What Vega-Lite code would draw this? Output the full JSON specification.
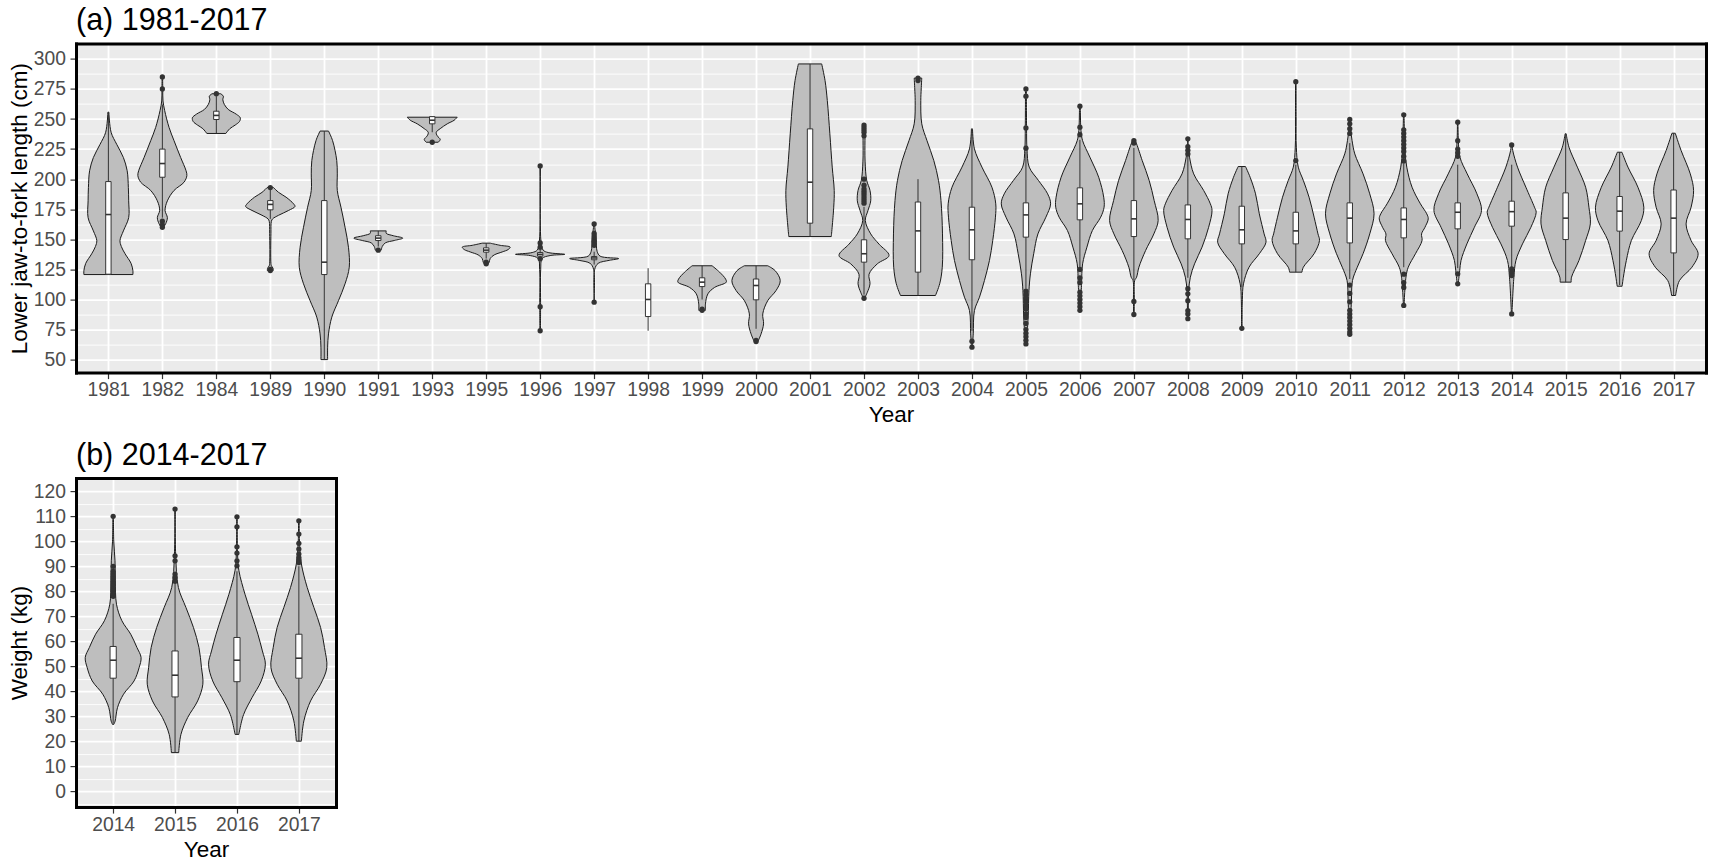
{
"$schema": "https://vega.github.io/schema/vega-lite/v6.json",
"background": "white",
"padding": {"left": 8, "top": 5.6, "right": 3, "bottom": 0},
"config": {
  "font": "Liberation Sans",
  "view": {"fill": "#EBEBEB", "stroke": null},
  "axis": {"labelFont": "Liberation Sans", "labelFontSize": 19.3, "labelColor": "#4D4D4D", "titleFont": "Liberation Sans", "titleFontSize": 22.5, "titleFontWeight": "normal", "titleColor": "black", "tickColor": "#333333", "tickSize": 6, "tickWidth": 1.2, "domainColor": "black", "domainWidth": 3, "domainCap": "square", "gridColor": "white", "gridWidth": 1.8},
  "axisX": {"labelPadding": 2, "titlePadding": 4},
  "axisY": {"labelPadding": 4.5, "titlePadding": 2},
  "title": {"font": "Liberation Sans", "fontSize": 30.5, "fontWeight": "normal", "anchor": "start", "frame": "group", "color": "black", "baseline": "alphabetic", "offset": 7}
},
"datasets": {
"a": [
{"k":"v","year":1981,"v":120.7,"w":0.454},{"k":"v","year":1981,"v":124,"w":0.454},{"k":"v","year":1981,"v":130,"w":0.42},{"k":"v","year":1981,"v":138,"w":0.309},{"k":"v","year":1981,"v":144,"w":0.24},{"k":"v","year":1981,"v":149,"w":0.215},{"k":"v","year":1981,"v":157,"w":0.278},{"k":"v","year":1981,"v":168,"w":0.376},{"k":"v","year":1981,"v":182,"w":0.376},{"k":"v","year":1981,"v":193,"w":0.37},{"k":"v","year":1981,"v":207,"w":0.348},{"k":"v","year":1981,"v":218,"w":0.278},{"k":"v","year":1981,"v":229,"w":0.154},{"k":"v","year":1981,"v":239,"w":0.05},{"k":"v","year":1981,"v":255.7,"w":0.009},
{"k":"v","year":1982,"v":160,"w":0.02},{"k":"v","year":1982,"v":163,"w":0.062},{"k":"v","year":1982,"v":168,"w":0.093},{"k":"v","year":1982,"v":174,"w":0.05},{"k":"v","year":1982,"v":182,"w":0.093},{"k":"v","year":1982,"v":190.6,"w":0.216},{"k":"v","year":1982,"v":197.5,"w":0.402},{"k":"v","year":1982,"v":203,"w":0.454},{"k":"v","year":1982,"v":207,"w":0.439},{"k":"v","year":1982,"v":218,"w":0.339},{"k":"v","year":1982,"v":232,"w":0.216},{"k":"v","year":1982,"v":243,"w":0.124},{"k":"v","year":1982,"v":257,"w":0.043},{"k":"v","year":1982,"v":265,"w":0.012},{"k":"v","year":1982,"v":275,"w":0.008},{"k":"v","year":1982,"v":285,"w":0.005},
{"k":"v","year":1984,"v":238,"w":0.176},{"k":"v","year":1984,"v":242,"w":0.25},{"k":"v","year":1984,"v":245,"w":0.35},{"k":"v","year":1984,"v":248,"w":0.43},{"k":"v","year":1984,"v":251,"w":0.444},{"k":"v","year":1984,"v":254,"w":0.37},{"k":"v","year":1984,"v":258,"w":0.22},{"k":"v","year":1984,"v":262,"w":0.15},{"k":"v","year":1984,"v":266,"w":0.12},{"k":"v","year":1984,"v":269,"w":0.13},{"k":"v","year":1984,"v":271,"w":0.08},
{"k":"v","year":1989,"v":124,"w":0.055},{"k":"v","year":1989,"v":126,"w":0.05},{"k":"v","year":1989,"v":128,"w":0.02},{"k":"v","year":1989,"v":130,"w":0.012},{"k":"v","year":1989,"v":155,"w":0.012},{"k":"v","year":1989,"v":165,"w":0.02},{"k":"v","year":1989,"v":167,"w":0.043},{"k":"v","year":1989,"v":170,"w":0.154},{"k":"v","year":1989,"v":174,"w":0.339},{"k":"v","year":1989,"v":177.3,"w":0.457},{"k":"v","year":1989,"v":179.5,"w":0.431},{"k":"v","year":1989,"v":185,"w":0.293},{"k":"v","year":1989,"v":189,"w":0.154},{"k":"v","year":1989,"v":193,"w":0.06},
{"k":"v","year":1990,"v":50,"w":0.062},{"k":"v","year":1990,"v":60.3,"w":0.062},{"k":"v","year":1990,"v":71.4,"w":0.078},{"k":"v","year":1990,"v":85.3,"w":0.139},{"k":"v","year":1990,"v":99,"w":0.263},{"k":"v","year":1990,"v":113,"w":0.385},{"k":"v","year":1990,"v":126.8,"w":0.463},{"k":"v","year":1990,"v":143.4,"w":0.448},{"k":"v","year":1990,"v":160,"w":0.385},{"k":"v","year":1990,"v":176.7,"w":0.309},{"k":"v","year":1990,"v":190.6,"w":0.241},{"k":"v","year":1990,"v":204.4,"w":0.241},{"k":"v","year":1990,"v":215.5,"w":0.231},{"k":"v","year":1990,"v":232,"w":0.154},{"k":"v","year":1990,"v":240,"w":0.078},
{"k":"v","year":1991,"v":141,"w":0.055},{"k":"v","year":1991,"v":144,"w":0.074},{"k":"v","year":1991,"v":147,"w":0.13},{"k":"v","year":1991,"v":149,"w":0.296},{"k":"v","year":1991,"v":151,"w":0.454},{"k":"v","year":1991,"v":153,"w":0.278},{"k":"v","year":1991,"v":155,"w":0.148},{"k":"v","year":1991,"v":157,"w":0.148},
{"k":"v","year":1993,"v":230.7,"w":0.111},{"k":"v","year":1993,"v":233,"w":0.148},{"k":"v","year":1993,"v":236,"w":0.093},{"k":"v","year":1993,"v":239,"w":0.074},{"k":"v","year":1993,"v":242,"w":0.148},{"k":"v","year":1993,"v":246,"w":0.278},{"k":"v","year":1993,"v":249,"w":0.407},{"k":"v","year":1993,"v":251.5,"w":0.463},
{"k":"v","year":1995,"v":129.6,"w":0.037},{"k":"v","year":1995,"v":131,"w":0.055},{"k":"v","year":1995,"v":134,"w":0.074},{"k":"v","year":1995,"v":137,"w":0.148},{"k":"v","year":1995,"v":139.5,"w":0.296},{"k":"v","year":1995,"v":141.5,"w":0.407},{"k":"v","year":1995,"v":143.5,"w":0.444},{"k":"v","year":1995,"v":145,"w":0.259},{"k":"v","year":1995,"v":146.8,"w":0.074},
{"k":"v","year":1996,"v":74,"w":0.005},{"k":"v","year":1996,"v":94,"w":0.008},{"k":"v","year":1996,"v":125,"w":0.01},{"k":"v","year":1996,"v":134,"w":0.037},{"k":"v","year":1996,"v":136.5,"w":0.185},{"k":"v","year":1996,"v":137.5,"w":0.457},{"k":"v","year":1996,"v":139,"w":0.148},{"k":"v","year":1996,"v":141,"w":0.055},{"k":"v","year":1996,"v":147,"w":0.018},{"k":"v","year":1996,"v":211,"w":0.005},
{"k":"v","year":1997,"v":97.7,"w":0.005},{"k":"v","year":1997,"v":125,"w":0.01},{"k":"v","year":1997,"v":130,"w":0.074},{"k":"v","year":1997,"v":132.5,"w":0.278},{"k":"v","year":1997,"v":134,"w":0.454},{"k":"v","year":1997,"v":136,"w":0.111},{"k":"v","year":1997,"v":140,"w":0.055},{"k":"v","year":1997,"v":150,"w":0.037},{"k":"v","year":1997,"v":162.8,"w":0.005},
{"k":"v","year":1999,"v":91,"w":0.062},{"k":"v","year":1999,"v":96.3,"w":0.062},{"k":"v","year":1999,"v":104.7,"w":0.108},{"k":"v","year":1999,"v":110,"w":0.231},{"k":"v","year":1999,"v":114.4,"w":0.448},{"k":"v","year":1999,"v":117,"w":0.435},{"k":"v","year":1999,"v":122.7,"w":0.324},{"k":"v","year":1999,"v":128,"w":0.185},
{"k":"v","year":2000,"v":65.9,"w":0.043},{"k":"v","year":2000,"v":71.4,"w":0.093},{"k":"v","year":2000,"v":79.7,"w":0.139},{"k":"v","year":2000,"v":88,"w":0.124},{"k":"v","year":2000,"v":99,"w":0.216},{"k":"v","year":2000,"v":107.4,"w":0.37},{"k":"v","year":2000,"v":115.7,"w":0.448},{"k":"v","year":2000,"v":124,"w":0.352},{"k":"v","year":2000,"v":128,"w":0.216},
{"k":"v","year":2001,"v":152.3,"w":0.394},{"k":"v","year":2001,"v":176.7,"w":0.439},{"k":"v","year":2001,"v":190.6,"w":0.448},{"k":"v","year":2001,"v":210,"w":0.411},{"k":"v","year":2001,"v":237.7,"w":0.367},{"k":"v","year":2001,"v":265.4,"w":0.32},{"k":"v","year":2001,"v":282,"w":0.278},{"k":"v","year":2001,"v":295.8,"w":0.216},
{"k":"v","year":2002,"v":101,"w":0.01},{"k":"v","year":2002,"v":106,"w":0.062},{"k":"v","year":2002,"v":113,"w":0.111},{"k":"v","year":2002,"v":121,"w":0.093},{"k":"v","year":2002,"v":129.6,"w":0.246},{"k":"v","year":2002,"v":136.5,"w":0.463},{"k":"v","year":2002,"v":146,"w":0.278},{"k":"v","year":2002,"v":154.5,"w":0.124},{"k":"v","year":2002,"v":165.6,"w":0.024},{"k":"v","year":2002,"v":174,"w":0.074},{"k":"v","year":2002,"v":182,"w":0.124},{"k":"v","year":2002,"v":190.6,"w":0.111},{"k":"v","year":2002,"v":199,"w":0.05},{"k":"v","year":2002,"v":215,"w":0.02},{"k":"v","year":2002,"v":232,"w":0.018},{"k":"v","year":2002,"v":240,"w":0.02},{"k":"v","year":2002,"v":245,"w":0.01},
{"k":"v","year":2003,"v":103.3,"w":0.324},{"k":"v","year":2003,"v":113,"w":0.402},{"k":"v","year":2003,"v":126.8,"w":0.45},{"k":"v","year":2003,"v":154.5,"w":0.454},{"k":"v","year":2003,"v":182.2,"w":0.426},{"k":"v","year":2003,"v":199,"w":0.38},{"k":"v","year":2003,"v":215.5,"w":0.293},{"k":"v","year":2003,"v":232,"w":0.167},{"k":"v","year":2003,"v":246,"w":0.07},{"k":"v","year":2003,"v":265.4,"w":0.052},{"k":"v","year":2003,"v":275,"w":0.06},{"k":"v","year":2003,"v":284,"w":0.07},
{"k":"v","year":2004,"v":60.3,"w":0.008},{"k":"v","year":2004,"v":71.4,"w":0.024},{"k":"v","year":2004,"v":90.8,"w":0.046},{"k":"v","year":2004,"v":101.9,"w":0.139},{"k":"v","year":2004,"v":115.7,"w":0.231},{"k":"v","year":2004,"v":132.4,"w":0.324},{"k":"v","year":2004,"v":149,"w":0.385},{"k":"v","year":2004,"v":168.4,"w":0.435},{"k":"v","year":2004,"v":179.5,"w":0.441},{"k":"v","year":2004,"v":193.3,"w":0.37},{"k":"v","year":2004,"v":210,"w":0.185},{"k":"v","year":2004,"v":225.2,"w":0.046},{"k":"v","year":2004,"v":241.8,"w":0.01},
{"k":"v","year":2005,"v":63,"w":0.01},{"k":"v","year":2005,"v":85.3,"w":0.041},{"k":"v","year":2005,"v":107.4,"w":0.056},{"k":"v","year":2005,"v":121.3,"w":0.083},{"k":"v","year":2005,"v":138,"w":0.144},{"k":"v","year":2005,"v":154.5,"w":0.222},{"k":"v","year":2005,"v":168.4,"w":0.37},{"k":"v","year":2005,"v":179.5,"w":0.457},{"k":"v","year":2005,"v":187.8,"w":0.402},{"k":"v","year":2005,"v":199,"w":0.231},{"k":"v","year":2005,"v":210,"w":0.061},{"k":"v","year":2005,"v":225,"w":0.02},{"k":"v","year":2005,"v":242.6,"w":0.012},{"k":"v","year":2005,"v":275,"w":0.008},
{"k":"v","year":2006,"v":91,"w":0.01},{"k":"v","year":2006,"v":113,"w":0.031},{"k":"v","year":2006,"v":129.6,"w":0.05},{"k":"v","year":2006,"v":143.5,"w":0.13},{"k":"v","year":2006,"v":157.3,"w":0.231},{"k":"v","year":2006,"v":168.4,"w":0.385},{"k":"v","year":2006,"v":176.7,"w":0.448},{"k":"v","year":2006,"v":185,"w":0.441},{"k":"v","year":2006,"v":201.6,"w":0.348},{"k":"v","year":2006,"v":218.3,"w":0.185},{"k":"v","year":2006,"v":232,"w":0.05},{"k":"v","year":2006,"v":240.4,"w":0.02},{"k":"v","year":2006,"v":260.7,"w":0.008},
{"k":"v","year":2007,"v":87.5,"w":0.005},{"k":"v","year":2007,"v":100,"w":0.008},{"k":"v","year":2007,"v":115.7,"w":0.015},{"k":"v","year":2007,"v":118.5,"w":0.05},{"k":"v","year":2007,"v":126.8,"w":0.093},{"k":"v","year":2007,"v":140.7,"w":0.217},{"k":"v","year":2007,"v":154.5,"w":0.37},{"k":"v","year":2007,"v":165.6,"w":0.45},{"k":"v","year":2007,"v":182.2,"w":0.376},{"k":"v","year":2007,"v":199,"w":0.283},{"k":"v","year":2007,"v":215.5,"w":0.154},{"k":"v","year":2007,"v":229.3,"w":0.05},{"k":"v","year":2007,"v":232,"w":0.02},
{"k":"v","year":2008,"v":83,"w":0.005},{"k":"v","year":2008,"v":99,"w":0.01},{"k":"v","year":2008,"v":107.4,"w":0.015},{"k":"v","year":2008,"v":118.5,"w":0.046},{"k":"v","year":2008,"v":129.6,"w":0.124},{"k":"v","year":2008,"v":143.5,"w":0.263},{"k":"v","year":2008,"v":160,"w":0.385},{"k":"v","year":2008,"v":174,"w":0.448},{"k":"v","year":2008,"v":179.5,"w":0.417},{"k":"v","year":2008,"v":190.6,"w":0.293},{"k":"v","year":2008,"v":204.4,"w":0.108},{"k":"v","year":2008,"v":218.3,"w":0.031},{"k":"v","year":2008,"v":226,"w":0.01},{"k":"v","year":2008,"v":233.5,"w":0.005},
{"k":"v","year":2009,"v":76,"w":0.005},{"k":"v","year":2009,"v":100,"w":0.01},{"k":"v","year":2009,"v":113,"w":0.031},{"k":"v","year":2009,"v":126.8,"w":0.133},{"k":"v","year":2009,"v":138,"w":0.324},{"k":"v","year":2009,"v":147.6,"w":0.448},{"k":"v","year":2009,"v":154.5,"w":0.413},{"k":"v","year":2009,"v":171.2,"w":0.324},{"k":"v","year":2009,"v":187.8,"w":0.254},{"k":"v","year":2009,"v":201.6,"w":0.154},{"k":"v","year":2009,"v":210.5,"w":0.068},
{"k":"v","year":2010,"v":122.7,"w":0.115},{"k":"v","year":2010,"v":126.8,"w":0.139},{"k":"v","year":2010,"v":138,"w":0.339},{"k":"v","year":2010,"v":149,"w":0.439},{"k":"v","year":2010,"v":154.5,"w":0.411},{"k":"v","year":2010,"v":168.4,"w":0.339},{"k":"v","year":2010,"v":185,"w":0.246},{"k":"v","year":2010,"v":199,"w":0.139},{"k":"v","year":2010,"v":210,"w":0.046},{"k":"v","year":2010,"v":226.6,"w":0.01},{"k":"v","year":2010,"v":250,"w":0.006},{"k":"v","year":2010,"v":281,"w":0.005},
{"k":"v","year":2011,"v":71.4,"w":0.005},{"k":"v","year":2011,"v":99,"w":0.031},{"k":"v","year":2011,"v":115.7,"w":0.05},{"k":"v","year":2011,"v":126.8,"w":0.139},{"k":"v","year":2011,"v":138,"w":0.246},{"k":"v","year":2011,"v":154.5,"w":0.37},{"k":"v","year":2011,"v":171.2,"w":0.45},{"k":"v","year":2011,"v":187.8,"w":0.37},{"k":"v","year":2011,"v":204.4,"w":0.246},{"k":"v","year":2011,"v":221,"w":0.093},{"k":"v","year":2011,"v":232,"w":0.043},{"k":"v","year":2011,"v":242,"w":0.015},{"k":"v","year":2011,"v":249.6,"w":0.008},
{"k":"v","year":2012,"v":93.5,"w":0.005},{"k":"v","year":2012,"v":118.5,"w":0.041},{"k":"v","year":2012,"v":126.8,"w":0.083},{"k":"v","year":2012,"v":138,"w":0.217},{"k":"v","year":2012,"v":149,"w":0.339},{"k":"v","year":2012,"v":154.5,"w":0.33},{"k":"v","year":2012,"v":160,"w":0.393},{"k":"v","year":2012,"v":167,"w":0.454},{"k":"v","year":2012,"v":171.2,"w":0.426},{"k":"v","year":2012,"v":179.5,"w":0.309},{"k":"v","year":2012,"v":193.3,"w":0.154},{"k":"v","year":2012,"v":210,"w":0.056},{"k":"v","year":2012,"v":225,"w":0.02},{"k":"v","year":2012,"v":240,"w":0.012},{"k":"v","year":2012,"v":253.5,"w":0.005},
{"k":"v","year":2013,"v":113,"w":0.01},{"k":"v","year":2013,"v":124,"w":0.037},{"k":"v","year":2013,"v":132.4,"w":0.061},{"k":"v","year":2013,"v":146.2,"w":0.17},{"k":"v","year":2013,"v":160,"w":0.309},{"k":"v","year":2013,"v":174,"w":0.441},{"k":"v","year":2013,"v":187.8,"w":0.356},{"k":"v","year":2013,"v":204.4,"w":0.176},{"k":"v","year":2013,"v":218.3,"w":0.041},{"k":"v","year":2013,"v":232,"w":0.012},{"k":"v","year":2013,"v":247.4,"w":0.005},
{"k":"v","year":2014,"v":88,"w":0.005},{"k":"v","year":2014,"v":118.5,"w":0.041},{"k":"v","year":2014,"v":132.4,"w":0.078},{"k":"v","year":2014,"v":146.2,"w":0.2},{"k":"v","year":2014,"v":160,"w":0.356},{"k":"v","year":2014,"v":172.5,"w":0.454},{"k":"v","year":2014,"v":176.7,"w":0.422},{"k":"v","year":2014,"v":193.3,"w":0.263},{"k":"v","year":2014,"v":210,"w":0.108},{"k":"v","year":2014,"v":223.8,"w":0.02},{"k":"v","year":2014,"v":228.5,"w":0.008},
{"k":"v","year":2015,"v":114.4,"w":0.102},{"k":"v","year":2015,"v":118.5,"w":0.108},{"k":"v","year":2015,"v":132.4,"w":0.246},{"k":"v","year":2015,"v":149,"w":0.37},{"k":"v","year":2015,"v":162.8,"w":0.457},{"k":"v","year":2015,"v":176.7,"w":0.431},{"k":"v","year":2015,"v":193.3,"w":0.37},{"k":"v","year":2015,"v":210,"w":0.217},{"k":"v","year":2015,"v":226.6,"w":0.061},{"k":"v","year":2015,"v":237.7,"w":0.01},
{"k":"v","year":2016,"v":111,"w":0.046},{"k":"v","year":2016,"v":118.5,"w":0.069},{"k":"v","year":2016,"v":132.4,"w":0.124},{"k":"v","year":2016,"v":149,"w":0.217},{"k":"v","year":2016,"v":165.6,"w":0.402},{"k":"v","year":2016,"v":176.7,"w":0.448},{"k":"v","year":2016,"v":193.3,"w":0.339},{"k":"v","year":2016,"v":210,"w":0.154},{"k":"v","year":2016,"v":222.4,"w":0.043},
{"k":"v","year":2017,"v":103.3,"w":0.037},{"k":"v","year":2017,"v":115.7,"w":0.108},{"k":"v","year":2017,"v":126.8,"w":0.339},{"k":"v","year":2017,"v":138,"w":0.454},{"k":"v","year":2017,"v":149,"w":0.324},{"k":"v","year":2017,"v":162.8,"w":0.231},{"k":"v","year":2017,"v":176.7,"w":0.324},{"k":"v","year":2017,"v":190.6,"w":0.37},{"k":"v","year":2017,"v":204.4,"w":0.309},{"k":"v","year":2017,"v":223.8,"w":0.139},{"k":"v","year":2017,"v":238.2,"w":0.031},
{"k":"b","year":1981,"q1":121,"med":170.6,"q3":198,"lo":121,"hi":255.7},
{"k":"b","year":1982,"q1":201.6,"med":213,"q3":225,"lo":168,"hi":262},
{"k":"b","year":1984,"q1":249.6,"med":253,"q3":256.5,"lo":238,"hi":269},
{"k":"b","year":1989,"q1":174.5,"med":179,"q3":182.2,"lo":167,"hi":192},
{"k":"b","year":1990,"q1":120.7,"med":131,"q3":182.2,"lo":50,"hi":240},
{"k":"b","year":1991,"q1":149,"med":151,"q3":153,"lo":144,"hi":157},
{"k":"b","year":1993,"q1":246,"med":249,"q3":252,"lo":239,"hi":252},
{"k":"b","year":1995,"q1":139.3,"med":141,"q3":142.9,"lo":134,"hi":146.8},
{"k":"b","year":1996,"q1":136,"med":137.5,"q3":139,"lo":132,"hi":143},
{"k":"b","year":1997,"q1":133,"med":134.5,"q3":135.7,"lo":129,"hi":139.7},
{"k":"b","year":1998,"q1":85.8,"med":100,"q3":113,"lo":74,"hi":126},
{"k":"b","year":1999,"q1":110.7,"med":114.4,"q3":118,"lo":100,"hi":128},
{"k":"b","year":2000,"q1":99.7,"med":111.6,"q3":117,"lo":75.6,"hi":128},
{"k":"b","year":2001,"q1":163.4,"med":197.5,"q3":241.8,"lo":152.3,"hi":295.8},
{"k":"b","year":2002,"q1":131,"med":138,"q3":149.6,"lo":104,"hi":177},
{"k":"b","year":2003,"q1":122.7,"med":157,"q3":181,"lo":103.3,"hi":200},
{"k":"b","year":2004,"q1":133,"med":157.9,"q3":176.7,"lo":74,"hi":241.8},
{"k":"b","year":2005,"q1":151.8,"med":170.3,"q3":180.3,"lo":109,"hi":223},
{"k":"b","year":2006,"q1":166.2,"med":179.5,"q3":192.8,"lo":127,"hi":232.7},
{"k":"b","year":2007,"q1":152.3,"med":167,"q3":182.2,"lo":115.7,"hi":226},
{"k":"b","year":2008,"q1":150.4,"med":166.5,"q3":178.6,"lo":118,"hi":220},
{"k":"b","year":2009,"q1":146.2,"med":157.9,"q3":177.5,"lo":110,"hi":210.5},
{"k":"b","year":2010,"q1":146.2,"med":157,"q3":172.5,"lo":122.7,"hi":212},
{"k":"b","year":2011,"q1":147,"med":167.6,"q3":180.3,"lo":117,"hi":230},
{"k":"b","year":2012,"q1":151.2,"med":166.5,"q3":176.1,"lo":126.8,"hi":213},
{"k":"b","year":2013,"q1":158.7,"med":172.5,"q3":180.3,"lo":126,"hi":212},
{"k":"b","year":2014,"q1":160.9,"med":173,"q3":181.7,"lo":126,"hi":212},
{"k":"b","year":2015,"q1":149.8,"med":167.6,"q3":188.6,"lo":114.4,"hi":237.7},
{"k":"b","year":2016,"q1":156.8,"med":173.4,"q3":185.6,"lo":112,"hi":222.4},
{"k":"b","year":2017,"q1":138.7,"med":167.6,"q3":191,"lo":103.3,"hi":238.2},
{"k":"o","year":1982,"v":285},{"k":"o","year":1982,"v":275},{"k":"o","year":1982,"v":165},{"k":"o","year":1982,"v":162},{"k":"o","year":1982,"v":160},
{"k":"o","year":1984,"v":271},
{"k":"o","year":1989,"v":193},{"k":"o","year":1989,"v":125},{"k":"o","year":1989,"v":124},
{"k":"o","year":1991,"v":141},
{"k":"o","year":1993,"v":230.7},
{"k":"o","year":1995,"v":131},{"k":"o","year":1995,"v":129.6},
{"k":"o","year":1996,"v":211},{"k":"o","year":1996,"v":147},{"k":"o","year":1996,"v":143.5},{"k":"o","year":1996,"v":133.8},{"k":"o","year":1996,"v":94},{"k":"o","year":1996,"v":74},
{"k":"o","year":1997,"v":162.8},{"k":"o","year":1997,"v":155},{"k":"o","year":1997,"v":153},{"k":"o","year":1997,"v":151},{"k":"o","year":1997,"v":149},{"k":"o","year":1997,"v":147.5},{"k":"o","year":1997,"v":145},{"k":"o","year":1997,"v":97.7},
{"k":"o","year":1999,"v":92},{"k":"o","year":1999,"v":91},
{"k":"o","year":2000,"v":66},{"k":"o","year":2000,"v":65},
{"k":"o","year":2002,"v":245},{"k":"o","year":2002,"v":243},{"k":"o","year":2002,"v":241},{"k":"o","year":2002,"v":239},{"k":"o","year":2002,"v":236},{"k":"o","year":2002,"v":200},{"k":"o","year":2002,"v":195},{"k":"o","year":2002,"v":192},{"k":"o","year":2002,"v":190},{"k":"o","year":2002,"v":188},{"k":"o","year":2002,"v":186},{"k":"o","year":2002,"v":184},{"k":"o","year":2002,"v":182},{"k":"o","year":2002,"v":180},{"k":"o","year":2002,"v":101},
{"k":"o","year":2003,"v":284},{"k":"o","year":2003,"v":282},
{"k":"o","year":2004,"v":65.3},{"k":"o","year":2004,"v":60.3},
{"k":"o","year":2005,"v":275},{"k":"o","year":2005,"v":269},{"k":"o","year":2005,"v":242.6},{"k":"o","year":2005,"v":225.7},{"k":"o","year":2005,"v":107},{"k":"o","year":2005,"v":104},{"k":"o","year":2005,"v":101},{"k":"o","year":2005,"v":98},{"k":"o","year":2005,"v":95},{"k":"o","year":2005,"v":92},{"k":"o","year":2005,"v":88},{"k":"o","year":2005,"v":85},{"k":"o","year":2005,"v":80},{"k":"o","year":2005,"v":75},{"k":"o","year":2005,"v":72},{"k":"o","year":2005,"v":69},{"k":"o","year":2005,"v":66},{"k":"o","year":2005,"v":63},
{"k":"o","year":2006,"v":260.7},{"k":"o","year":2006,"v":243.2},{"k":"o","year":2006,"v":237},{"k":"o","year":2006,"v":125},{"k":"o","year":2006,"v":118},{"k":"o","year":2006,"v":114},{"k":"o","year":2006,"v":106},{"k":"o","year":2006,"v":103},{"k":"o","year":2006,"v":100},{"k":"o","year":2006,"v":97},{"k":"o","year":2006,"v":94},{"k":"o","year":2006,"v":91},
{"k":"o","year":2007,"v":232},{"k":"o","year":2007,"v":230},{"k":"o","year":2007,"v":98.3},{"k":"o","year":2007,"v":87.5},
{"k":"o","year":2008,"v":233.5},{"k":"o","year":2008,"v":227},{"k":"o","year":2008,"v":224},{"k":"o","year":2008,"v":221},{"k":"o","year":2008,"v":109},{"k":"o","year":2008,"v":104.7},{"k":"o","year":2008,"v":99},{"k":"o","year":2008,"v":90.8},{"k":"o","year":2008,"v":88},{"k":"o","year":2008,"v":84},
{"k":"o","year":2009,"v":76},
{"k":"o","year":2010,"v":281},{"k":"o","year":2010,"v":215.5},
{"k":"o","year":2011,"v":249.6},{"k":"o","year":2011,"v":246},{"k":"o","year":2011,"v":242},{"k":"o","year":2011,"v":238},{"k":"o","year":2011,"v":112},{"k":"o","year":2011,"v":105},{"k":"o","year":2011,"v":98},{"k":"o","year":2011,"v":91},{"k":"o","year":2011,"v":88},{"k":"o","year":2011,"v":85},{"k":"o","year":2011,"v":82},{"k":"o","year":2011,"v":79},{"k":"o","year":2011,"v":76},{"k":"o","year":2011,"v":73},{"k":"o","year":2011,"v":71},
{"k":"o","year":2012,"v":253.5},{"k":"o","year":2012,"v":241},{"k":"o","year":2012,"v":238},{"k":"o","year":2012,"v":235},{"k":"o","year":2012,"v":232},{"k":"o","year":2012,"v":229},{"k":"o","year":2012,"v":226},{"k":"o","year":2012,"v":223},{"k":"o","year":2012,"v":219},{"k":"o","year":2012,"v":215},{"k":"o","year":2012,"v":121},{"k":"o","year":2012,"v":114},{"k":"o","year":2012,"v":110},{"k":"o","year":2012,"v":95},
{"k":"o","year":2013,"v":247.4},{"k":"o","year":2013,"v":232},{"k":"o","year":2013,"v":225},{"k":"o","year":2013,"v":222},{"k":"o","year":2013,"v":219},{"k":"o","year":2013,"v":121.3},{"k":"o","year":2013,"v":113},
{"k":"o","year":2014,"v":228.5},{"k":"o","year":2014,"v":125.4},{"k":"o","year":2014,"v":122.6},{"k":"o","year":2014,"v":119.9},{"k":"o","year":2014,"v":88}
],
"b": [
{"k":"v","year":2014,"v":26.7,"w":0.01},{"k":"v","year":2014,"v":28,"w":0.032},{"k":"v","year":2014,"v":33.4,"w":0.07},{"k":"v","year":2014,"v":38.8,"w":0.168},{"k":"v","year":2014,"v":44.1,"w":0.338},{"k":"v","year":2014,"v":49.4,"w":0.419},{"k":"v","year":2014,"v":53.5,"w":0.451},{"k":"v","year":2014,"v":57.5,"w":0.384},{"k":"v","year":2014,"v":62.8,"w":0.284},{"k":"v","year":2014,"v":68.2,"w":0.141},{"k":"v","year":2014,"v":74.8,"w":0.054},{"k":"v","year":2014,"v":84.2,"w":0.035},{"k":"v","year":2014,"v":92.2,"w":0.03},{"k":"v","year":2014,"v":100,"w":0.01},{"k":"v","year":2014,"v":109.8,"w":0.005},
{"k":"v","year":2015,"v":15.4,"w":0.059},{"k":"v","year":2015,"v":22.7,"w":0.095},{"k":"v","year":2015,"v":29.4,"w":0.203},{"k":"v","year":2015,"v":36.1,"w":0.365},{"k":"v","year":2015,"v":42.8,"w":0.449},{"k":"v","year":2015,"v":49.4,"w":0.427},{"k":"v","year":2015,"v":57.5,"w":0.386},{"k":"v","year":2015,"v":65.5,"w":0.297},{"k":"v","year":2015,"v":73.5,"w":0.176},{"k":"v","year":2015,"v":81.5,"w":0.054},{"k":"v","year":2015,"v":94.9,"w":0.01},{"k":"v","year":2015,"v":112.9,"w":0.005},
{"k":"v","year":2016,"v":22.7,"w":0.03},{"k":"v","year":2016,"v":24.1,"w":0.041},{"k":"v","year":2016,"v":30.7,"w":0.108},{"k":"v","year":2016,"v":37.4,"w":0.243},{"k":"v","year":2016,"v":44.1,"w":0.392},{"k":"v","year":2016,"v":50.8,"w":0.459},{"k":"v","year":2016,"v":56.1,"w":0.411},{"k":"v","year":2016,"v":62.8,"w":0.338},{"k":"v","year":2016,"v":70.8,"w":0.235},{"k":"v","year":2016,"v":78.8,"w":0.13},{"k":"v","year":2016,"v":88.2,"w":0.032},{"k":"v","year":2016,"v":95,"w":0.01},{"k":"v","year":2016,"v":109.8,"w":0.005},
{"k":"v","year":2017,"v":20,"w":0.041},{"k":"v","year":2017,"v":28.1,"w":0.081},{"k":"v","year":2017,"v":36.1,"w":0.189},{"k":"v","year":2017,"v":42.8,"w":0.351},{"k":"v","year":2017,"v":49.4,"w":0.451},{"k":"v","year":2017,"v":57.5,"w":0.414},{"k":"v","year":2017,"v":65.5,"w":0.351},{"k":"v","year":2017,"v":73.5,"w":0.243},{"k":"v","year":2017,"v":81.5,"w":0.135},{"k":"v","year":2017,"v":90.9,"w":0.041},{"k":"v","year":2017,"v":100,"w":0.01},{"k":"v","year":2017,"v":108.2,"w":0.005},
{"k":"b","year":2014,"q1":45.2,"med":52.4,"q3":57.9,"lo":27,"hi":75},
{"k":"b","year":2015,"q1":37.7,"med":46.4,"q3":56.1,"lo":15.4,"hi":83},
{"k":"b","year":2016,"q1":43.8,"med":52.4,"q3":61.5,"lo":22.7,"hi":88},
{"k":"b","year":2017,"q1":45.2,"med":53.2,"q3":62.8,"lo":20,"hi":90},
{"k":"o","year":2014,"v":110},{"k":"o","year":2014,"v":90},{"k":"o","year":2014,"v":88},{"k":"o","year":2014,"v":87},{"k":"o","year":2014,"v":86},{"k":"o","year":2014,"v":85},{"k":"o","year":2014,"v":84},{"k":"o","year":2014,"v":83},{"k":"o","year":2014,"v":82},{"k":"o","year":2014,"v":81},{"k":"o","year":2014,"v":80},{"k":"o","year":2014,"v":79},{"k":"o","year":2014,"v":78},
{"k":"o","year":2015,"v":112.9},{"k":"o","year":2015,"v":94.2},{"k":"o","year":2015,"v":92.2},{"k":"o","year":2015,"v":86.9},{"k":"o","year":2015,"v":85.5},{"k":"o","year":2015,"v":84},
{"k":"o","year":2016,"v":109.8},{"k":"o","year":2016,"v":105.8},{"k":"o","year":2016,"v":97.8},{"k":"o","year":2016,"v":95.3},{"k":"o","year":2016,"v":92.2},{"k":"o","year":2016,"v":90.2},
{"k":"o","year":2017,"v":108.2},{"k":"o","year":2017,"v":102.9},{"k":"o","year":2017,"v":99.2},{"k":"o","year":2017,"v":96.9},{"k":"o","year":2017,"v":94.9},{"k":"o","year":2017,"v":93.5},{"k":"o","year":2017,"v":92.5},{"k":"o","year":2017,"v":91.5}
]
},
"spacing": 13.5,
"vconcat": [
{
  "title": {"text": "(a) 1981-2017"},
  "width": 1630, "height": 329,
  "data": {"name": "a"},
  "transform": [
    {"window": [{"op": "dense_rank", "as": "i"}], "sort": [{"field": "year", "order": "ascending"}]},
    {"calculate": "datum.i - 0.05", "as": "b0"},
    {"calculate": "datum.i + 0.05", "as": "b1"}
  ],
  "resolve": {"axis": {"x": "independent", "y": "independent"}},
  "layer": [
    {
      "transform": [{"filter": "datum.k === 'v'"}, {"calculate": "datum.i - datum.w", "as": "x0"}, {"calculate": "datum.i + datum.w", "as": "x1"}],
      "mark": {"type": "area", "orient": "horizontal", "fill": "#BEBEBE", "stroke": "#1a1a1a", "strokeWidth": 1, "interpolate": "catmull-rom"},
      "encoding": {
        "y": {"field": "v", "type": "quantitative", "scale": {"domain": [39.2, 312.7], "nice": false, "zero": false}, "axis": {"orient": "left", "values": [50,75,100,125,150,175,200,225,250,275,300], "title": "Lower jaw-to-fork length (cm)", "grid": false, "domain": true, "zindex": 1}},
        "x": {"field": "x0", "type": "quantitative", "scale": {"domain": [0.4, 30.6], "nice": false, "zero": false}, "axis": {"orient": "bottom", "values": [1,2,3,4,5,6,7,8,9,10,11,12,13,14,15,16,17,18,19,20,21,22,23,24,25,26,27,28,29,30], "labelExpr": "['1981','1982','1984','1989','1990','1991','1993','1995','1996','1997','1998','1999','2000','2001','2002','2003','2004','2005','2006','2007','2008','2009','2010','2011','2012','2013','2014','2015','2016','2017'][datum.value - 1]", "title": "Year", "grid": false, "domain": true, "labelFlush": false, "zindex": 1}},
        "x2": {"field": "x1"},
        "detail": {"field": "year", "type": "nominal"}
      }
    },
    {
      "transform": [{"filter": "datum.k === 'b'"}],
      "mark": {"type": "rule", "color": "#333333", "strokeWidth": 1},
      "encoding": {
        "x": {"field": "i", "type": "quantitative", "scale": {"domain": [0.4, 30.6], "nice": false, "zero": false}, "axis": {"orient": "top", "labels": false, "ticks": false, "title": null, "grid": false, "domain": true, "zindex": 1}},
        "y": {"field": "lo", "type": "quantitative", "scale": {"domain": [39.2, 312.7], "nice": false, "zero": false}, "axis": {"orient": "right", "labels": false, "ticks": false, "title": null, "grid": false, "domain": true, "zindex": 1}},
        "y2": {"field": "hi"}
      }
    },
    {
      "transform": [{"filter": "datum.k === 'b'"}],
      "mark": {"type": "rect", "fill": "white", "stroke": "#333333", "strokeWidth": 1},
      "encoding": {
        "x": {"field": "b0", "type": "quantitative", "scale": {"domain": [0.4, 30.6], "nice": false, "zero": false}, "axis": {"orient": "bottom", "values": [1,2,3,4,5,6,7,8,9,10,11,12,13,14,15,16,17,18,19,20,21,22,23,24,25,26,27,28,29,30], "labels": false, "ticks": false, "title": null, "domain": false, "grid": true, "zindex": 0}},
        "x2": {"field": "b1"},
        "y": {"field": "q1", "type": "quantitative", "scale": {"domain": [39.2, 312.7], "nice": false, "zero": false}, "axis": {"orient": "left", "values": [50,75,100,125,150,175,200,225,250,275,300], "labels": false, "ticks": false, "title": null, "domain": false, "grid": true, "zindex": 0}},
        "y2": {"field": "q3"}
      }
    },
    {
      "transform": [{"filter": "datum.k === 'b'"}],
      "mark": {"type": "rule", "color": "#333333", "strokeWidth": 1.6},
      "encoding": {
        "x": {"field": "b0", "type": "quantitative", "scale": {"domain": [0.4, 30.6], "nice": false, "zero": false}, "axis": null},
        "x2": {"field": "b1"},
        "y": {"field": "med", "type": "quantitative", "scale": {"domain": [39.2, 312.7], "nice": false, "zero": false}, "axis": {"orient": "left", "values": [62.5,87.5,112.5,137.5,162.5,187.5,212.5,237.5,262.5,287.5,312.5], "labels": false, "ticks": false, "title": null, "domain": false, "grid": true, "gridWidth": 0.9, "zindex": 0}}
      }
    },
    {
      "transform": [{"filter": "datum.k === 'o'"}],
      "mark": {"type": "circle", "color": "#333333", "opacity": 1, "size": 28},
      "encoding": {
        "x": {"field": "i", "type": "quantitative", "scale": {"domain": [0.4, 30.6], "nice": false, "zero": false}, "axis": null},
        "y": {"field": "v", "type": "quantitative", "scale": {"domain": [39.2, 312.7], "nice": false, "zero": false}, "axis": null}
      }
    }
  ]
},
{
  "title": {"text": "(b) 2014-2017"},
  "width": 260, "height": 329,
  "data": {"name": "b"},
  "transform": [
    {"window": [{"op": "dense_rank", "as": "i"}], "sort": [{"field": "year", "order": "ascending"}]},
    {"calculate": "datum.i - 0.05", "as": "b0"},
    {"calculate": "datum.i + 0.05", "as": "b1"}
  ],
  "resolve": {"axis": {"x": "independent", "y": "independent"}},
  "layer": [
    {
      "transform": [{"filter": "datum.k === 'v'"}, {"calculate": "datum.i - datum.w", "as": "x0"}, {"calculate": "datum.i + datum.w", "as": "x1"}],
      "mark": {"type": "area", "orient": "horizontal", "fill": "#BEBEBE", "stroke": "#1a1a1a", "strokeWidth": 1, "interpolate": "catmull-rom"},
      "encoding": {
        "y": {"field": "v", "type": "quantitative", "scale": {"domain": [-6.4, 125.3], "nice": false, "zero": false}, "axis": {"orient": "left", "values": [0,10,20,30,40,50,60,70,80,90,100,110,120], "title": "Weight (kg)", "grid": false, "domain": true, "zindex": 1}},
        "x": {"field": "x0", "type": "quantitative", "scale": {"domain": [0.4, 4.6], "nice": false, "zero": false}, "axis": {"orient": "bottom", "values": [1,2,3,4], "labelExpr": "['2014','2015','2016','2017'][datum.value - 1]", "title": "Year", "grid": false, "domain": true, "labelFlush": false, "zindex": 1}},
        "x2": {"field": "x1"},
        "detail": {"field": "year", "type": "nominal"}
      }
    },
    {
      "transform": [{"filter": "datum.k === 'b'"}],
      "mark": {"type": "rule", "color": "#333333", "strokeWidth": 1},
      "encoding": {
        "x": {"field": "i", "type": "quantitative", "scale": {"domain": [0.4, 4.6], "nice": false, "zero": false}, "axis": {"orient": "top", "labels": false, "ticks": false, "title": null, "grid": false, "domain": true, "zindex": 1}},
        "y": {"field": "lo", "type": "quantitative", "scale": {"domain": [-6.4, 125.3], "nice": false, "zero": false}, "axis": {"orient": "right", "labels": false, "ticks": false, "title": null, "grid": false, "domain": true, "zindex": 1}},
        "y2": {"field": "hi"}
      }
    },
    {
      "transform": [{"filter": "datum.k === 'b'"}],
      "mark": {"type": "rect", "fill": "white", "stroke": "#333333", "strokeWidth": 1},
      "encoding": {
        "x": {"field": "b0", "type": "quantitative", "scale": {"domain": [0.4, 4.6], "nice": false, "zero": false}, "axis": {"orient": "bottom", "values": [1,2,3,4], "labels": false, "ticks": false, "title": null, "domain": false, "grid": true, "zindex": 0}},
        "x2": {"field": "b1"},
        "y": {"field": "q1", "type": "quantitative", "scale": {"domain": [-6.4, 125.3], "nice": false, "zero": false}, "axis": {"orient": "left", "values": [0,10,20,30,40,50,60,70,80,90,100,110,120], "labels": false, "ticks": false, "title": null, "domain": false, "grid": true, "zindex": 0}},
        "y2": {"field": "q3"}
      }
    },
    {
      "transform": [{"filter": "datum.k === 'b'"}],
      "mark": {"type": "rule", "color": "#333333", "strokeWidth": 1.6},
      "encoding": {
        "x": {"field": "b0", "type": "quantitative", "scale": {"domain": [0.4, 4.6], "nice": false, "zero": false}, "axis": null},
        "x2": {"field": "b1"},
        "y": {"field": "med", "type": "quantitative", "scale": {"domain": [-6.4, 125.3], "nice": false, "zero": false}, "axis": {"orient": "left", "values": [-5,5,15,25,35,45,55,65,75,85,95,105,115,125], "labels": false, "ticks": false, "title": null, "domain": false, "grid": true, "gridWidth": 0.9, "zindex": 0}}
      }
    },
    {
      "transform": [{"filter": "datum.k === 'o'"}],
      "mark": {"type": "circle", "color": "#333333", "opacity": 1, "size": 28},
      "encoding": {
        "x": {"field": "i", "type": "quantitative", "scale": {"domain": [0.4, 4.6], "nice": false, "zero": false}, "axis": null},
        "y": {"field": "v", "type": "quantitative", "scale": {"domain": [-6.4, 125.3], "nice": false, "zero": false}, "axis": null}
      }
    }
  ]
}
]
}
